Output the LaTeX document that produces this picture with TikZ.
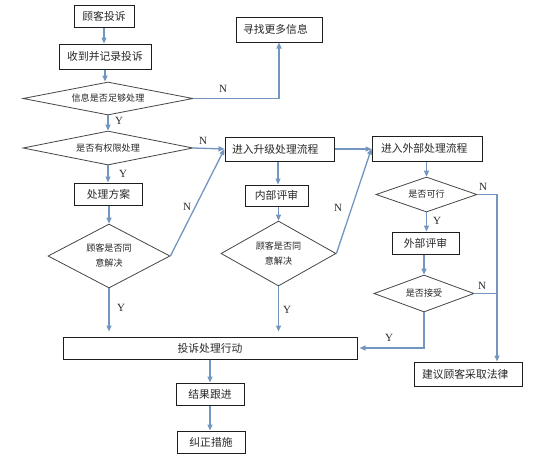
\documentclass[tikz,border=0pt]{standalone}
\usepackage{fontspec}
\setmainfont{Noto Sans CJK SC}
\newfontfamily\labfont{Liberation Serif}
\usetikzlibrary{shapes.geometric,arrows.meta}
\definecolor{arr}{RGB}{115,150,192}
\definecolor{edge}{RGB}{30,30,30}
\definecolor{dedge}{RGB}{70,70,70}
\definecolor{txt}{RGB}{40,40,40}
\tikzset{
 box/.style={draw=edge, line width=1pt, inner sep=0pt, text=txt, font=\fontsize{10.8}{13}\selectfont, minimum height=22pt},
 dia/.style={diamond, draw=dedge, line width=0.8pt, inner sep=0pt, aspect=5, text=txt, font=\fontsize{9.1}{15}\selectfont, align=center},
 con/.style={draw=arr, line width=1.3pt, -{Triangle[length=6pt,width=5pt]}},
 ln/.style={draw=arr, line width=1.3pt},
 lab/.style={font=\labfont\fontsize{11}{12}\selectfont, inner sep=0pt, text=txt},
}
\begin{document}
\begin{tikzpicture}[x=1pt,y=-1pt]
\useasboundingbox (0,0) rectangle (540,459);
\path[fill=white] (0,0) rectangle (540,459);
% boxes
\node[box, minimum width=60pt] (c1) at (104,16) {顾客投诉};
\node[box, minimum width=92pt, minimum height=25pt] (c2) at (105,56.5) {收到并记录投诉};
\node[box, minimum height=25pt, inner xsep=7pt, text width=72pt, align=left] (rs) at (279,29.5) {寻找更多信息};
\node[box, minimum height=24pt, inner xsep=7pt, text width=95pt, align=left] (up) at (279.5,149) {进入升级处理流程};
\node[box, minimum height=25pt, inner xsep=9pt, text width=92pt, align=left] (ext) at (427,148.5) {进入外部处理流程};
\node[box, minimum width=68pt] (p1) at (108.5,194) {处理方案};
\node[box, minimum width=63pt, minimum height=21pt] (ir) at (276.5,195.5) {内部评审};
\node[box, minimum width=67pt] (er) at (425.5,243) {外部评审};
\node[box, minimum width=294pt] (act) at (210,348) {投诉处理行动};
\node[box, minimum width=68pt] (fu) at (210,394) {结果跟进};
\node[box, minimum width=68pt] (cor) at (211,442) {纠正措施};
\node[box, minimum height=24pt, inner xsep=8pt, text width=92pt, align=left] (legal) at (468,374) {建议顾客采取法律};
% diamonds
\node[dia, minimum width=170pt, minimum height=33pt] (d1) at (108,98.5) {信息是否足够处理};
\node[dia, minimum width=170pt, minimum height=34pt] (d2) at (108,148) {是否有权限处理};
\node[dia, aspect=2, minimum width=122pt, minimum height=64pt] (d3) at (109,256) {顾客是否同\\意解决};
\node[dia, aspect=2, minimum width=115pt, minimum height=65pt] (d4) at (278.5,253.5) {顾客是否同\\意解决};
\node[dia, minimum width=101pt, minimum height=35pt] (f1) at (426.5,194.5) {是否可行};
\node[dia, minimum width=100pt, minimum height=37pt] (f2) at (424,293.5) {是否接受};
\coordinate (rx) at (497,0);
% connectors
\draw[con] (c1.south) -- (c1.south |- c2.north);
\draw[con] (c2.south) -- (c2.south |- d1.north);
\draw[con] (d1.east) -- (d1.east -| rs.south) -- (rs.south);
\draw[con] (d1.south) -- (d2.north);
\draw[con] (d2.east) -- (up.west);
\draw[con] (d2.south) -- (d2.south |- p1.north);
\draw[con] (p1.south -| d3.north) -- (d3.north);
\draw[con] (d3.east) -- (up.west);
\draw[con, shorten >=5pt] (d3.south) -- (d3.south |- act.north);
\draw[con] ([xshift=-1.5pt]up.south) -- ([xshift=-1.5pt]up.south |- ir.north);
\draw[con] (ir.south -| d4.north) -- (d4.north);
\draw[con] (d4.east) -- (ext.west);
\draw[con, shorten >=5pt] (d4.south) -- (d4.south |- act.north);
\draw[con] (up.east) -- (up.east -| ext.west);
\draw[con] (ext.south -| f1.north) -- (f1.north);
\draw[con] (f1.south) -- (f1.south |- er.north);
\draw[con] (er.south -| f2.north) -- (f2.north);
\draw[con] (f1.east) -- (f1.east -| rx) -- (rx |- legal.north);
\draw[ln] (f2.east) -- (f2.east -| rx);
\draw[con, shorten >=2pt] (f2.south) -- (f2.south |- act.east) -- (act.east);
\draw[con] (act.south) -- (fu.north);
\draw[con] (fu.south) -- (fu.south |- cor.north);
% labels
\node[lab] (n1) at (223,89) {N};
\node[lab] (y1) at (119,121) {Y};
\node[lab] (n2) at (203,141) {N};
\node[lab] (y2) at (123,174) {Y};
\node[lab] (n3) at (187,207) {N};
\node[lab] (y3) at (121,308) {Y};
\node[lab] (n4) at (338,208) {N};
\node[lab] (y4) at (287,310) {Y};
\node[lab] (n5) at (483,187) {N};
\node[lab] (y5) at (437,221) {Y};
\node[lab] (n6) at (482,286) {N};
\node[lab] (y6) at (389,338) {Y};
\end{tikzpicture}
\end{document}
